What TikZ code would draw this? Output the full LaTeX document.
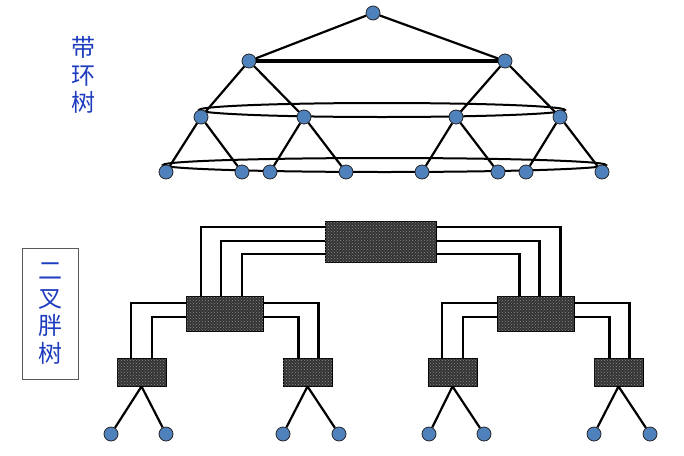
\documentclass[tikz,border=0pt]{standalone}
\usepackage{fontspec}
\newfontfamily\cjk{Noto Sans CJK SC}
\usepackage{xcolor}
\usepackage{tikz}
\usetikzlibrary{patterns}
\definecolor{hostblue}{RGB}{79,129,189}
\definecolor{cnblue}{RGB}{30,60,190}
\begin{document}
\begin{tikzpicture}[x=1pt,y=-1pt,
host/.style={circle,draw=black!85,line width=0.8pt,fill=hostblue,minimum size=14pt,inner sep=0pt},
switch/.style={draw=black,line width=0.8pt,fill=black!80,postaction={pattern=crosshatch dots,pattern color=black!45},inner sep=0pt},
edge/.style={line width=2.2pt},
wire/.style={line width=2.2pt},
cnlabel/.style={text=cnblue,font=\cjk\fontsize{24}{27.5}\selectfont,align=center,inner sep=0pt}]
\useasboundingbox(0,0)rectangle(684,455);
\draw[line width=2pt](382,110)ellipse(183 and 7);
\draw[line width=2pt](384.5,165)ellipse(221.5 and 7);
\node[host](r)at(373,13){};
\node[host](a1)at(249,61){};
\node[host](a2)at(505,61){};
\node[host](b1)at(201,117){};
\node[host](b2)at(304,117){};
\node[host](b3)at(456,117){};
\node[host](b4)at(560,117){};
\node[host](c1)at(166,172){};
\node[host](c2)at(242,172){};
\node[host](c3)at(270,172){};
\node[host](c4)at(346,172){};
\node[host](c5)at(422,172){};
\node[host](c6)at(498,172){};
\node[host](c7)at(526,172){};
\node[host](c8)at(602,172){};
\draw[edge](r)--(a1)(r)--(a2);
\draw[line width=3.4pt](a1)--(a2);
\draw[edge](a1)--(b1)(a1)--(b2)(a2)--(b3)(a2)--(b4);
\draw[edge](b1)--(c1)(b1)--(c2)(b2)--(c3)(b2)--(c4)
(b3)--(c5)(b3)--(c6)(b4)--(c7)(b4)--(c8);
\node[switch,minimum width=111pt,minimum height=41pt](t)at(380.5,241.5){};
\node[switch,minimum width=77pt,minimum height=35pt](ml)at(224.5,313.5){};
\node[switch,minimum width=77pt,minimum height=35pt](mr)at(535.5,313.5){};
\node[switch,minimum width=49pt,minimum height=28pt](e1)at(141.5,372){};
\node[switch,minimum width=49pt,minimum height=28pt](e2)at(307.5,372){};
\node[switch,minimum width=49pt,minimum height=28pt](e3)at(452.5,372){};
\node[switch,minimum width=49pt,minimum height=28pt](e4)at(618.5,372){};
\draw[wire]([yshift=-6pt]t.north west)-|([xshift=15pt]ml.north west);
\draw[wire]([yshift=-20pt]t.north west)-|([xshift=35pt]ml.north west);
\draw[wire]([yshift=-33pt]t.north west)-|([xshift=56pt]ml.north west);
\draw[wire]([yshift=-6pt]t.north east)-|([xshift=-14pt]mr.north east);
\draw[wire]([yshift=-20pt]t.north east)-|([xshift=-35pt]mr.north east);
\draw[wire]([yshift=-33pt]t.north east)-|([xshift=-55pt]mr.north east);
\draw[wire]([yshift=-7pt]ml.north west)-|([xshift=14pt]e1.north west);
\draw[wire]([yshift=-21pt]ml.north west)-|([xshift=35pt]e1.north west);
\draw[wire]([yshift=-7pt]ml.north east)-|([xshift=-14pt]e2.north east);
\draw[wire]([yshift=-21pt]ml.north east)-|([xshift=-34pt]e2.north east);
\draw[wire]([yshift=-7pt]mr.north west)-|([xshift=14pt]e3.north west);
\draw[wire]([yshift=-21pt]mr.north west)-|([xshift=35pt]e3.north west);
\draw[wire]([yshift=-7pt]mr.north east)-|([xshift=-14pt]e4.north east);
\draw[wire]([yshift=-21pt]mr.north east)-|([xshift=-34pt]e4.north east);
\node[host](h1)at(111,434){};
\node[host](h2)at(166,434){};
\node[host](h3)at(283,434){};
\node[host](h4)at(339,434){};
\node[host](h5)at(429,434){};
\node[host](h6)at(484,434){};
\node[host](h7)at(594,434){};
\node[host](h8)at(650,434){};
\draw[edge](e1.south)--(h1)(e1.south)--(h2)(e2.south)--(h3)(e2.south)--(h4)
(e3.south)--(h5)(e3.south)--(h6)(e4.south)--(h7)(e4.south)--(h8);
\node[cnlabel](ringtree)at(83,75){带\\环\\树};
\node[cnlabel,draw=black!65,line width=1pt,minimum width=56pt,minimum height=131pt](fattree)at(50,313.5){二\\叉\\胖\\树};
\end{tikzpicture}
\end{document}
